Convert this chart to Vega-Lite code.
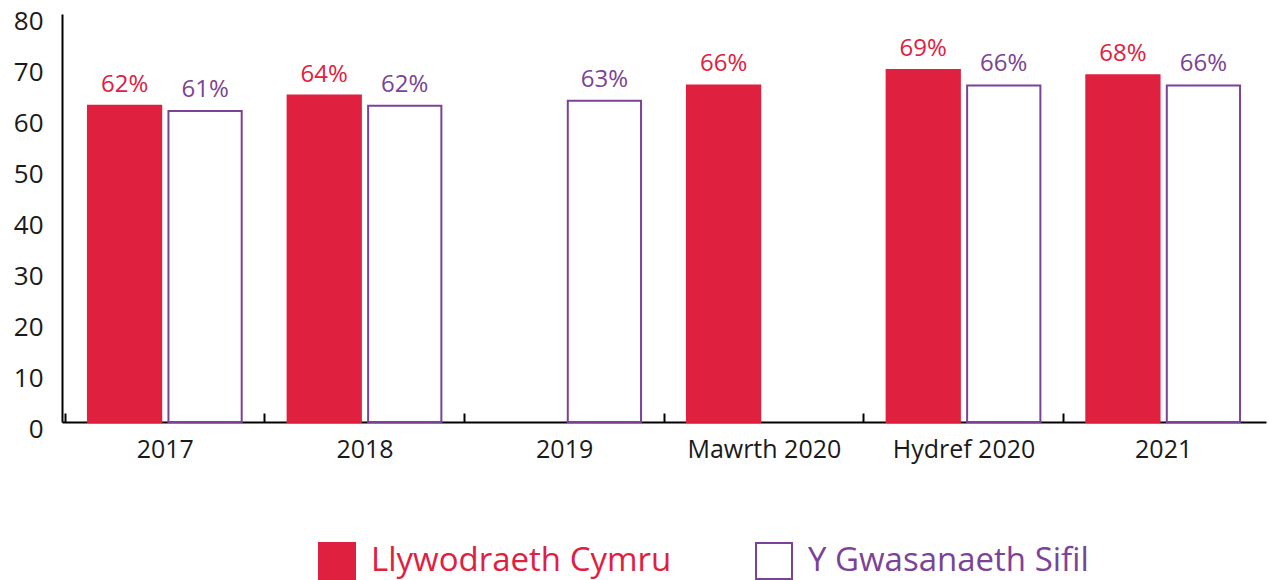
{
  "$schema": "https://vega.github.io/schema/vega-lite/v6.json",
  "width": 1204,
  "height": 408,
  "autosize": {"type": "none"},
  "padding": {"left": 62, "top": 14, "right": 3, "bottom": 158},
  "background": "white",
  "config": {
    "font": "Open Sans",
    "view": {"stroke": null}
  },
  "data": {
    "values": [
      {"period": "2017", "series": "Llywodraeth Cymru", "value": 62},
      {"period": "2017", "series": "Y Gwasanaeth Sifil", "value": 61},
      {"period": "2018", "series": "Llywodraeth Cymru", "value": 64},
      {"period": "2018", "series": "Y Gwasanaeth Sifil", "value": 62},
      {"period": "2019", "series": "Y Gwasanaeth Sifil", "value": 63},
      {"period": "Mawrth 2020", "series": "Llywodraeth Cymru", "value": 66},
      {"period": "Hydref 2020", "series": "Llywodraeth Cymru", "value": 69},
      {"period": "Hydref 2020", "series": "Y Gwasanaeth Sifil", "value": 66},
      {"period": "2021", "series": "Llywodraeth Cymru", "value": 68},
      {"period": "2021", "series": "Y Gwasanaeth Sifil", "value": 66}
    ]
  },
  "transform": [{"calculate": "datum.value + '%'", "as": "label"}],
  "encoding": {
    "x": {
      "field": "period",
      "type": "nominal",
      "sort": ["2017", "2018", "2019", "Mawrth 2020", "Hydref 2020", "2021"],
      "scale": {"paddingInner": 0.23, "paddingOuter": 0.13},
      "axis": {
        "title": null,
        "labelAngle": 0,
        "labelFontSize": 25,
        "labelColor": "#1a1a1a",
        "labelPadding": 24,
        "domainColor": "#000000",
        "domainWidth": 2,
        "tickOffset": -100.3,
        "labelOffset": 100.3,
        "tickColor": "#000000",
        "tickWidth": 2,
        "tickSize": -9,
        "grid": false
      }
    },
    "xOffset": {
      "field": "series",
      "type": "nominal",
      "scale": {"domain": ["Llywodraeth Cymru", "Y Gwasanaeth Sifil"], "paddingInner": 0.09, "paddingOuter": 0}
    },
    "y": {
      "field": "value",
      "type": "quantitative",
      "scale": {"domain": [0, 80], "nice": false},
      "axis": {
        "title": null,
        "values": [0, 10, 20, 30, 40, 50, 60, 70, 80],
        "labelFontSize": 26,
        "labelColor": "#1a1a1a",
        "labelPadding": 19,
        "labelOffset": 7,
        "ticks": false,
        "grid": false,
        "domainColor": "#000000",
        "domainWidth": 2
      }
    }
  },
  "layer": [
    {
      "mark": {"type": "bar", "strokeWidth": 2},
      "encoding": {
        "fill": {
          "field": "series",
          "type": "nominal",
          "scale": {"domain": ["Llywodraeth Cymru", "Y Gwasanaeth Sifil"], "range": ["#E0203F", "#FFFFFF"]},
          "legend": {
            "title": null,
            "orient": "none",
            "legendX": 256,
            "legendY": 528,
            "direction": "horizontal",
            "symbolType": "square",
            "symbolSize": 1296,
            "symbolStrokeWidth": 2,
            "labelFontSize": 33,
            "labelOffset": 15,
            "columnPadding": 80,
            "padding": 0,
            "labelLimit": 500,
            "encode": {
              "labels": {"update": {"fill": {"signal": "datum.value === 'Llywodraeth Cymru' ? '#E0203F' : '#7B4397'"}}}
            }
          }
        },
        "stroke": {
          "field": "series",
          "type": "nominal",
          "scale": {"domain": ["Llywodraeth Cymru", "Y Gwasanaeth Sifil"], "range": ["#E0203F", "#7B4397"]},
          "legend": {
            "title": null,
            "orient": "none",
            "legendX": 256,
            "legendY": 528,
            "direction": "horizontal",
            "symbolType": "square",
            "symbolSize": 1296,
            "symbolStrokeWidth": 2,
            "labelFontSize": 33,
            "labelOffset": 15,
            "columnPadding": 80,
            "padding": 0,
            "labelLimit": 500,
            "encode": {
              "labels": {"update": {"fill": {"signal": "datum.value === 'Llywodraeth Cymru' ? '#E0203F' : '#7B4397'"}}}
            }
          }
        }
      }
    },
    {
      "mark": {"type": "text", "baseline": "bottom", "dy": -9, "fontSize": 24},
      "encoding": {
        "text": {"field": "label"},
        "color": {
          "field": "series",
          "type": "nominal",
          "scale": {"domain": ["Llywodraeth Cymru", "Y Gwasanaeth Sifil"], "range": ["#E0203F", "#7B4397"]},
          "legend": null
        }
      }
    }
  ]
}
